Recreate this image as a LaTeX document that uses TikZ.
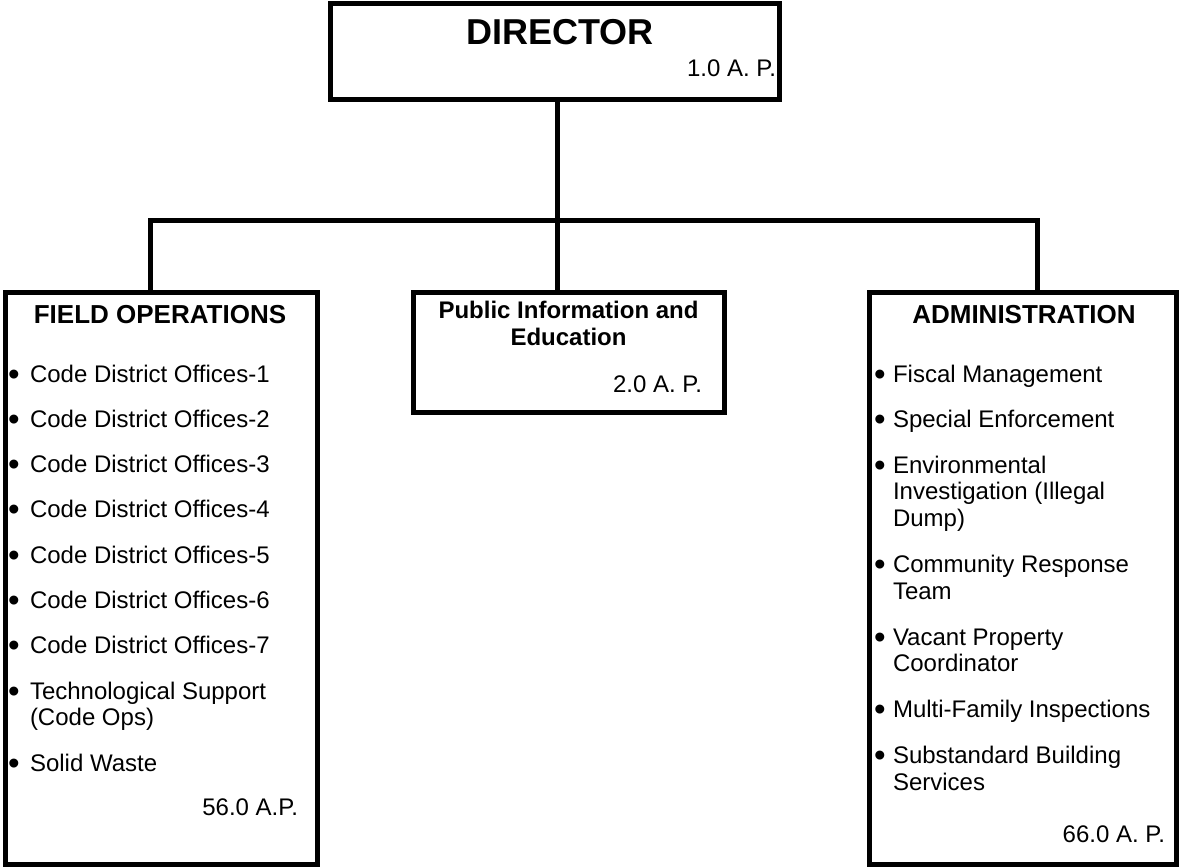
\documentclass[tikz,border=0pt]{standalone}
\usepackage{fontspec}
\setmainfont{Liberation Sans}
\begin{document}
\begin{tikzpicture}[x=1pt,y=-1pt,
  box/.style={draw, rectangle, line width=5pt, inner sep=0pt, outer sep=0pt},
  link/.style={line width=5pt},
  txt/.style={inner sep=0pt, outer sep=0pt, font=\fontsize{24}{27}\selectfont},
  dot/.style={inner sep=0pt, outer sep=0pt, font=\fontsize{33}{33}\selectfont},
  head/.style={inner sep=0pt, outer sep=0pt, font=\fontsize{26}{30}\selectfont\bfseries},
  subhead/.style={inner sep=0pt, outer sep=0pt, font=\fontsize{24}{27}\selectfont\bfseries},
  bigname/.style={inner sep=0pt, outer sep=0pt, font=\fontsize{36}{40}\selectfont\bfseries}]

\useasboundingbox (0,0) rectangle (1183,867);

% boxes
\node[box, minimum width=449pt, minimum height=95pt] (dir) at (554.5,51.5) {};
\node[box, minimum width=312pt, minimum height=572pt] (field) at (161,578) {};
\node[box, minimum width=311pt, minimum height=120pt] (pub) at (568.5,352) {};
\node[box, minimum width=307pt, minimum height=572pt] (admin) at (1022.5,578) {};

% connectors
\coordinate (trunk) at (557,220);
\coordinate (lj) at (150,220);
\coordinate (rj) at (1037,220);
\draw[link] (dir.south -| trunk) -- (pub.north -| trunk);
\draw[link] (field.north -| lj) -- (lj) -- (rj) -- (admin.north -| rj);

% director
\node[bigname, anchor=base] (dirname) at (560,45) {DIRECTOR};
\node[txt, anchor=base east] (dirap) at (776,77) {1.0 A. P.};

% public information
\node[subhead, anchor=base] (pubname1) at (568.5,318) {Public Information and};
\node[subhead, anchor=base] (pubname2) at (568.5,345) {Education};
\node[txt, anchor=base east] (pubap) at (702,392) {2.0 A. P.};

% field operations
\node[head, anchor=base] (fieldname) at (160,323) {FIELD OPERATIONS};
\foreach \y/\t [count=\i] in {382/Code District Offices-1, 427.3/Code District Offices-2,
    472.6/Code District Offices-3, 517.9/Code District Offices-4, 563.2/Code District Offices-5,
    608.5/Code District Offices-6, 653.8/Code District Offices-7, 699.1/Technological Support,
    771/Solid Waste} {
  \node[dot, anchor=base] (fb\i) at (14,\y+3) {\textbullet};
  \node[txt, anchor=base west] (fi\i) at (30,\y) {\t};
}
\node[txt, anchor=base west] (fc1) at (30,725.6) {(Code Ops)};
\node[txt, anchor=base east] (fieldap) at (298,815) {56.0 A.P.};

% administration
\node[head, anchor=base] (adminname) at (1024,323) {ADMINISTRATION};
\foreach \y/\t [count=\i] in {382/Fiscal Management, 427/Special Enforcement,
    473/Environmental, 572/Community Response, 645/Vacant Property,
    717/Multi-Family Inspections, 763/Substandard Building} {
  \node[dot, anchor=base] (ab\i) at (880,\y+3) {\textbullet};
  \node[txt, anchor=base west] (ai\i) at (893,\y) {\t};
}
\foreach \y/\t [count=\i] in {499/Investigation (Illegal, 526/Dump), 599/Team,
    671/Coordinator, 790/Services} {
  \node[txt, anchor=base west] (ac\i) at (893,\y) {\t};
}
\node[txt, anchor=base east] (adminap) at (1165,842) {66.0 A. P.};
\end{tikzpicture}
\end{document}
